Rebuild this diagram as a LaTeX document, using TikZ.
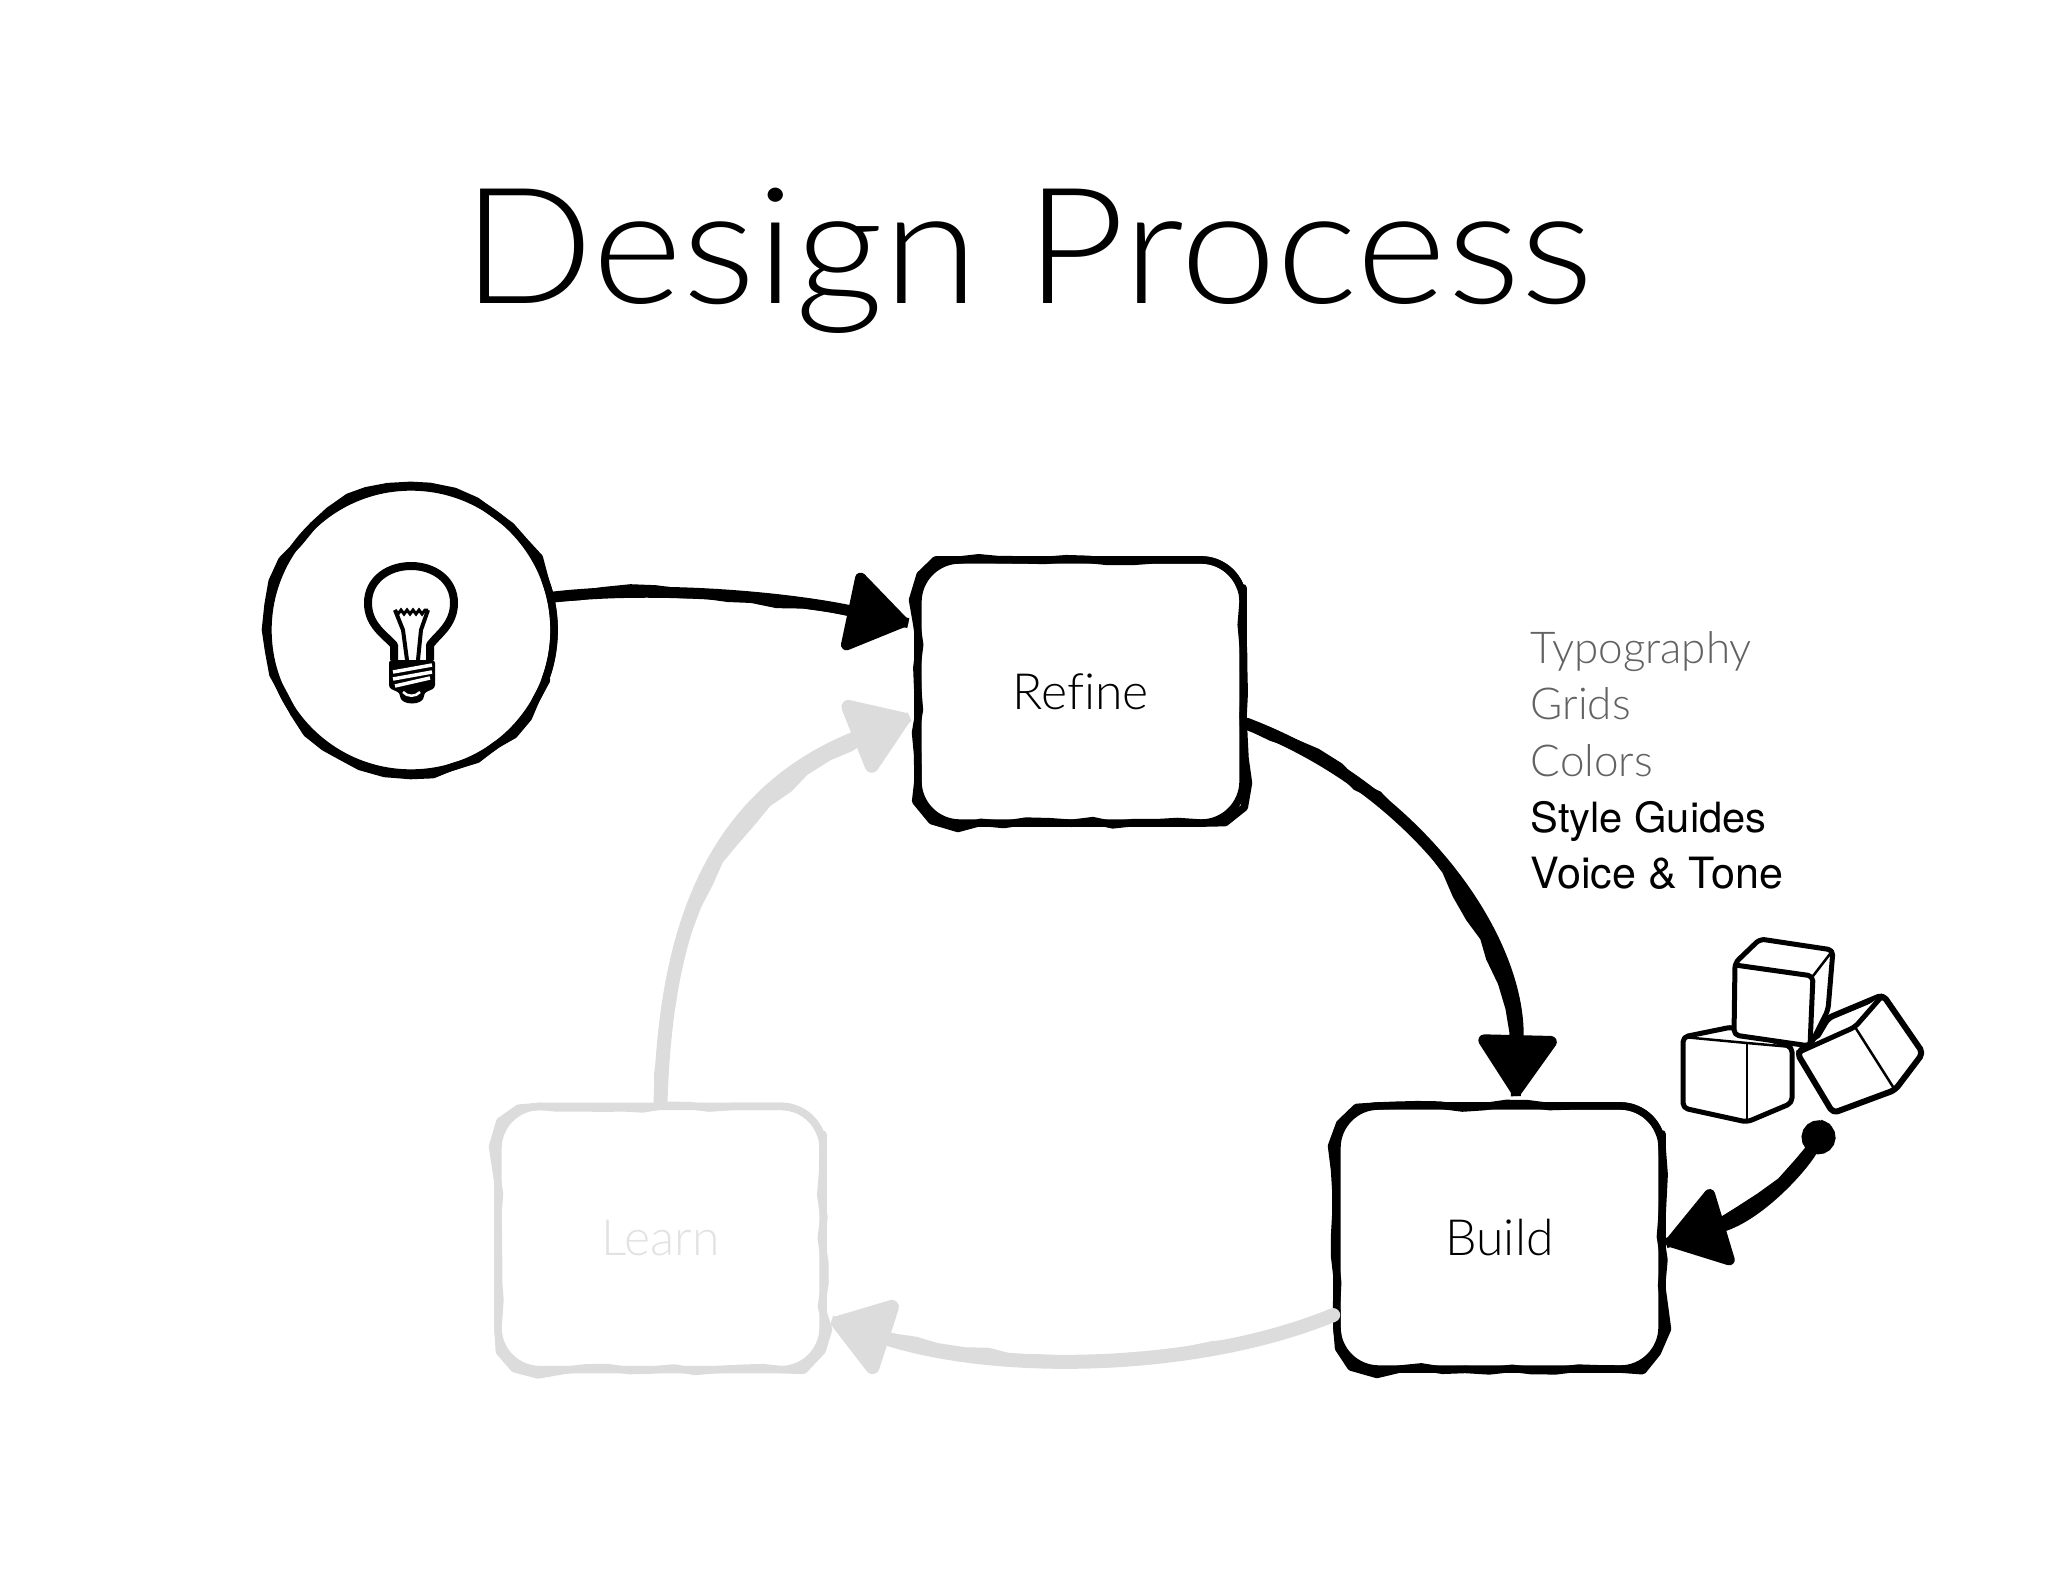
\documentclass[tikz,border=0pt]{standalone}
\usepackage{fontspec}
\usetikzlibrary{arrows.meta,decorations.pathmorphing}
\newfontfamily\thinfont[Ligatures=NoCommon]{Lato Light}
\newfontfamily\titlefont[FakeStretch=1.07]{Lato Light}
\newfontfamily\plainfont{TeX Gyre Heros}
\definecolor{fadegrey}{HTML}{DCDCDC}
\definecolor{fadetext}{HTML}{E2E2E2}
\definecolor{listgrey}{HTML}{626262}
\tikzset{
	flowhead/.tip={Triangle[length=0.66cm,width=0.86cm,round]},
	sketchy/.style={preaction={draw=#1,sharp corners,line join=round,decorate,decoration={random steps,segment length=0.22cm,amplitude=0.025cm,pre=curveto,pre length=0.5cm,post=curveto,post length=0.5cm}}},
	flowbox/.style={draw=#1,line width=0.075cm,minimum width=3.25cm,minimum height=2.63cm,rounded corners=0.42cm,sketchy=#1,font=\thinfont\fontsize{14.2}{15}\selectfont,text=black},
	flowbox/.default=black,
	flowarrow/.style={draw=#1,line width=0.11cm,line cap=round,
		preaction={draw=#1,-,line width=0.1cm,decorate,decoration={random steps,segment length=0.25cm,amplitude=0.03cm,post=lineto,post length=0.5cm}},
		-flowhead},
	flowarrow/.default=black,
	greyitem/.style={anchor=base west,inner sep=0pt,text=listgrey,font=\thinfont\fontsize{12.5}{13}\selectfont},
	blackitem/.style={anchor=base west,inner sep=0pt,text=black,font=\plainfont\fontsize{#1}{13}\selectfont},
	cubeline/.style={draw=black,fill=white,line width=0.05cm,line join=round,rounded corners=0.05cm},
	cubethin/.style={draw=black,line width=0.025cm},
	bulbline/.style={draw=black,line width=0.08cm,line join=round}
}
\begin{document}
\begin{tikzpicture}[x=0.01cm,y=-0.01cm]
	\pgfmathsetseed{4711}
	\useasboundingbox (0,0) rectangle (2048,1582);
	
	% title
	\node[anchor=base,inner sep=0pt,font=\titlefont\fontsize{46}{46}\selectfont] (title) at (1028,304) {Design Process};
	
	% boxes
	\node[draw=black,line width=0.075cm,circle,minimum size=2.86cm,sketchy=black] (idea) at (411,630) {};
	\node[flowbox] (refine) at (1080.5,691.5) {Refine};
	\node[flowbox] (build) at (1499.5,1237.5) {Build};
	\node[flowbox=fadegrey,text=fadetext] (learn) at (660.5,1238) {Learn};
	
	% what goes with the refine step
	\node[greyitem] (typography) at (1530,663) {Typography};
	\node[greyitem] (grids) at (1530,719) {Grids};
	\node[greyitem] (colors) at (1530,776) {Colors};
	\node[blackitem=11.85] (styleguides) at (1530,832) {Style Guides};
	\node[blackitem=12.25] (voicetone) at (1530,888) {Voice \& Tone};
	
	% arrows
	\coordinate (cubes) at (1826,1122);
	\draw[flowarrow=fadegrey,line width=0.14cm,shorten >=0.05cm] (learn.north) .. controls (665,950) and (700,800) .. (refine.188);
	\draw[flowarrow=fadegrey,line width=0.14cm,shorten >=0.05cm] (build.205) .. controls (1200,1370) and (1000,1375) .. (learn.-26);
	\draw[flowarrow,shorten >=0.06cm] (idea.13) .. controls (660,585) and (790,598) .. (refine.158);
	\draw[flowarrow,line width=0.12cm,shorten >=0.06cm] (refine.-11) .. controls (1420,790) and (1520,940) .. (build.83);
	\draw[flowarrow,{Circle[length=0.34cm]}-flowhead] (cubes) .. controls (1805,1165) and (1760,1215) .. (build.-2);
	
	% light bulb
	\draw[bulbline] (394,660) -- (394,645) .. controls (385,635) and (368,625) .. (368,603)
		.. controls (368,580) and (388,566) .. (411,566)
		.. controls (434,566) and (454,580) .. (454,603)
		.. controls (454,625) and (437,635) .. (430,645) -- (430,660);
	\draw[black,line width=0.03cm] (395,610) -- (398,614) -- (401,610) -- (404,614) -- (407,610) -- (410,614) -- (413,610) -- (416,614) -- (419,610) -- (422,614) -- (425,610) -- (428,610);
	\draw[black,line width=0.04cm] (395,610) -- (403,630) -- (407,660);
	\draw[black,line width=0.04cm] (428,610) -- (421,630) -- (418,660);
	\fill[black,rounded corners=0.03cm] (389,660) -- (435,660) -- (435,688) -- (424,693) .. controls (424,706) and (400,706) .. (400,693) -- (389,688) -- cycle;
	\draw[white,line width=0.035cm] (393,672) -- (432,665);
	\draw[white,line width=0.035cm] (393,679) -- (432,672);
	\draw[white,line width=0.035cm] (395,686) -- (430,678);
	\draw[white,line width=0.025cm] (403,692) .. controls (407,697) and (416,697) .. (420,692);
	
	% cubes
	\path[cubeline,line width=0.06cm] (1797,1053) -- (1815,1040) -- (1828,1018) -- (1883,995) -- (1923,1053) -- (1895,1090) -- (1833,1113) -- cycle;
	\path[cubeline] (1797,1053) -- (1855,1027) -- (1883,995);
	\draw[cubethin] (1855,1027) -- (1895,1090);
	\path[cubeline] (1683,1037) -- (1732,1027) -- (1792,1047) -- (1792,1103) -- (1747,1122) -- (1683,1108) -- cycle;
	\draw[cubethin] (1683,1037) -- (1747,1043) -- (1792,1047);
	\draw[cubethin] (1747,1043) -- (1747,1122);
	\path[cubeline] (1735,963) -- (1760,939) -- (1833,950) -- (1828,1010) -- (1810,1046) -- (1734,1035) -- cycle;
	\path[cubeline,fill=none] (1735,965) -- (1813,976) -- (1810,1046);
	\draw[cubethin] (1813,976) -- (1833,950);
\end{tikzpicture}
\end{document}
